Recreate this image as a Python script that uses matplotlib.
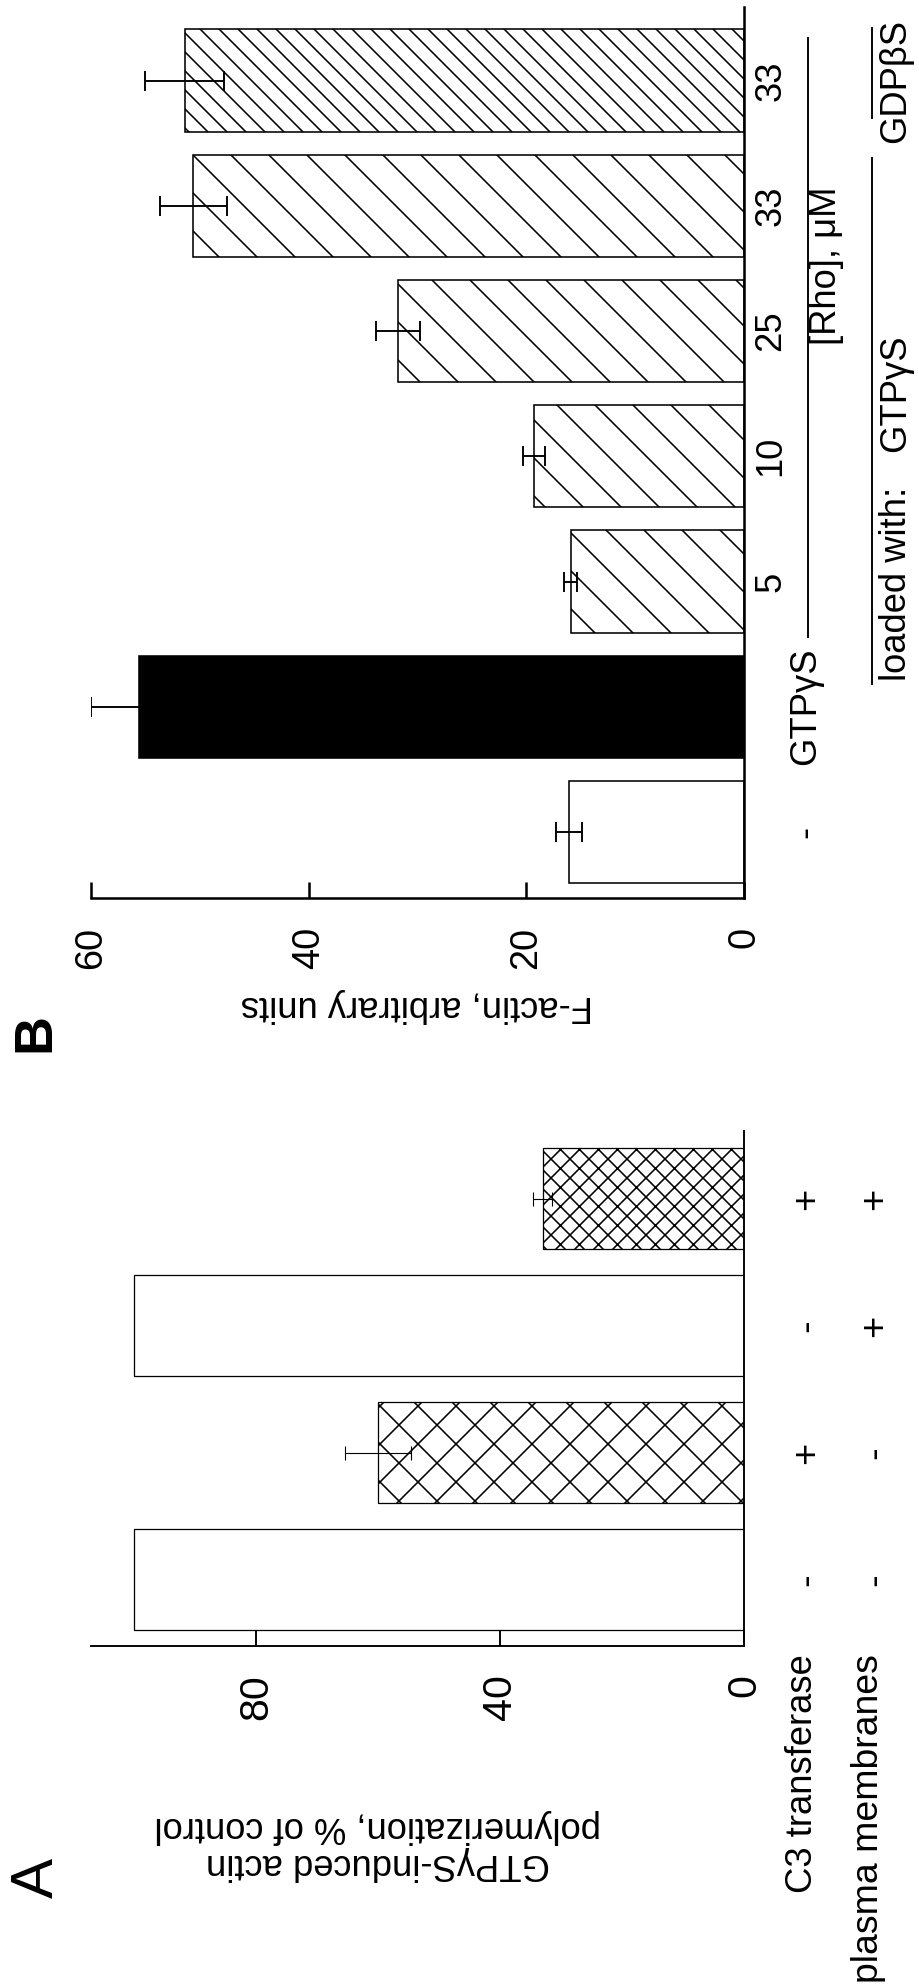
import matplotlib
matplotlib.use('Agg')
import matplotlib.pyplot as plt
import matplotlib.transforms as mtransforms
from matplotlib.lines import Line2D
import numpy as np

DPI = 228
W, H = 919, 1985

plt.rcParams['font.family'] = ['Liberation Sans', 'DejaVu Sans']
plt.rcParams['hatch.linewidth'] = 0.5
plt.rcParams['hatch.color'] = 'black'

# A: actin polymerization, % of control
a_c3 = ['-', '+', '-', '+']
a_membranes = ['-', '-', '+', '+']
a_values = [100, 60, 100, 33]
a_errors = [0, 5.4, 0, 1.5]
a_hatches = ['', 'xx', '', 'xxxx']

# B: F-actin, arbitrary units
b_labels = ['-', 'GTPγS', '5', '10', '25', '33', '33']
b_values = [16.1, 55.6, 15.9, 19.3, 31.8, 50.6, 51.4]
b_errors = [1.2, 4.4, 0.6, 1.0, 2.0, 3.1, 3.6]
b_colors = ['white', 'black', 'white', 'white', 'white', 'white', 'white']
b_hatches = ['', '', '\\\\', '\\\\', '\\\\', '\\\\', '\\\\\\\\']

FS = 11.5


def px_box(x0, y0, x1, y1):
    return [x0 / W, 1 - y1 / H, (x1 - x0) / W, (y1 - y0) / H]


def style_axes(ax, lw, labelsize):
    for side in ('top', 'left'):
        ax.spines[side].set_visible(False)
    for side in ('bottom', 'right'):
        ax.spines[side].set_linewidth(lw)
    ax.set_yticks([])
    ax.tick_params(axis='x', direction='in', length=5, width=lw, pad=9,
                   labelsize=labelsize, labelrotation=90)
    ax.set_facecolor('none')


fig = plt.figure(figsize=(W / DPI, H / DPI), dpi=DPI)
axb = fig.add_axes(px_box(91, 7, 744, 898))
axa = fig.add_axes(px_box(91, 1131, 744, 1646))

# ---- panel B ----
pos_b = np.arange(len(b_values))
bars = axb.barh(pos_b, b_values, height=0.815, color=b_colors,
                edgecolor='black', linewidth=0.5)
for bar, h in zip(bars, b_hatches):
    bar.set_hatch(h)
axb.errorbar(b_values, pos_b, xerr=b_errors, fmt='none', ecolor='black',
             elinewidth=0.6, capsize=3.2, capthick=0.6)
axb.set_xlim(60, 0)
axb.set_ylim(-0.527, 6.587)
axb.set_xticks([0, 20, 40, 60])
style_axes(axb, 0.8, 12)

tb = mtransforms.blended_transform_factory(fig.transFigure, axb.transData)
for i, lab in enumerate(b_labels):
    x = 806 / W if i < 2 else 771 / W
    fig.text(x, i, lab, transform=tb, rotation=90, ha='center', va='center',
             fontsize=FS)

fig.add_artist(Line2D([808 / W] * 2, [1.56, 6.34], transform=tb,
                      color='black', lw=0.6))
fig.text(827 / W, 4.52, '[Rho], μM', transform=tb, rotation=90,
         ha='center', va='center', fontsize=FS)
fig.add_artist(Line2D([872 / W] * 2, [1.18, 5.38], transform=tb,
                      color='black', lw=0.6))
fig.add_artist(Line2D([872 / W] * 2, [5.70, 6.42], transform=tb,
                      color='black', lw=0.6))
fig.text(896 / W, 3.5, 'GTPγS', transform=tb, rotation=90,
         ha='center', va='center', fontsize=FS)
fig.text(896 / W, 2.76, 'loaded with:', transform=tb, rotation=90,
         ha='center', va='top', fontsize=FS)
fig.text(896 / W, 6, 'GDPβS', transform=tb, rotation=90,
         ha='center', va='center', fontsize=FS)

fig.text(417 / W, 1 - 1005 / H, 'F-actin, arbitrary units', rotation=180,
         ha='center', va='center', fontsize=FS)
fig.text(35 / W, 1 - 1033 / H, 'B', rotation=90, ha='center', va='center',
         fontsize=17, fontweight='bold')

# ---- panel A ----
pos_a = np.arange(len(a_values))
bars = axa.barh(pos_a, a_values, height=0.795, color='white',
                edgecolor='black', linewidth=0.4)
for bar, h in zip(bars, a_hatches):
    bar.set_hatch(h)
err = np.array(a_errors)
has_err = err > 0
axa.errorbar(np.array(a_values)[has_err], pos_a[has_err], xerr=err[has_err],
             fmt='none', ecolor='black', elinewidth=0.35, capsize=2.2,
             capthick=0.35)
axa.set_xlim(107, 0)
axa.set_ylim(-0.52, 3.535)
axa.set_xticks([0, 40, 80])
style_axes(axa, 0.6, 13)

ta = mtransforms.blended_transform_factory(fig.transFigure, axa.transData)
for i, (c3, pm) in enumerate(zip(a_c3, a_membranes)):
    fig.text(807 / W, i, c3, transform=ta, rotation=90, ha='center',
             va='center', fontsize=12)
    fig.text(875 / W, i, pm, transform=ta, rotation=90, ha='center',
             va='center', fontsize=12)

fig.text(803 / W, 1 - 1654 / H, 'C3 transferase', rotation=90,
         ha='center', va='top', fontsize=FS)
fig.text(868 / W, 1 - 1654 / H, 'plasma membranes', rotation=90,
         ha='center', va='top', fontsize=11.8)

fig.text(378 / W, 1 - 1845 / H,
         'GTPγS-induced actin\npolymerization, % of control', rotation=180,
         ha='center', va='center', multialignment='center', linespacing=1.1,
         fontsize=FS)
fig.text(37 / W, 1 - 1878 / H, 'A', rotation=90, ha='center', va='center',
         fontsize=19)

fig.savefig('out.png', dpi=DPI, facecolor='white')
